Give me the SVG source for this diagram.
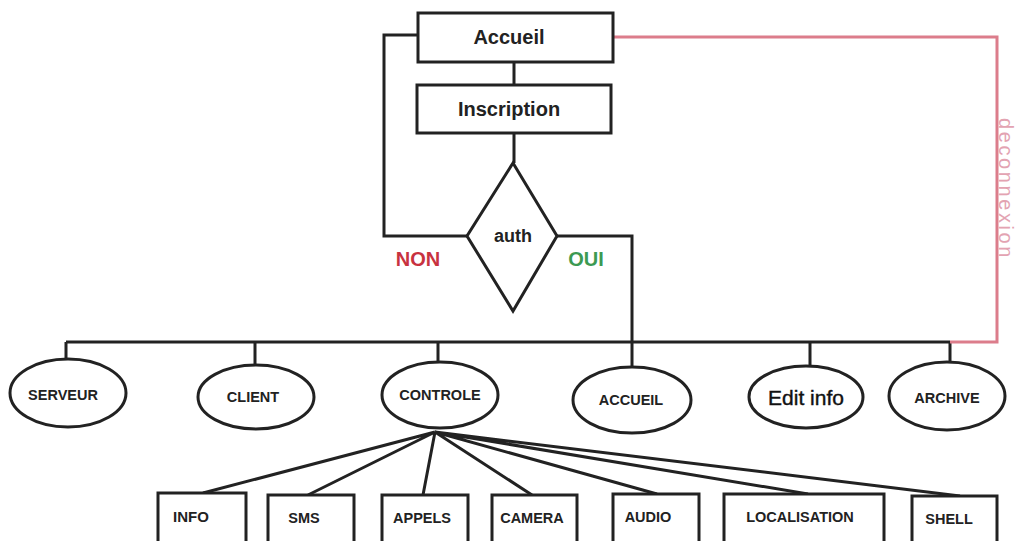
<svg xmlns="http://www.w3.org/2000/svg" width="1018" height="541" viewBox="0 0 1018 541">
<style>
.s{fill:#fff;stroke:#222;stroke-width:3}
.c{fill:none;stroke:#222;stroke-width:3}
.t{font-family:"Liberation Sans",Arial,sans-serif;font-weight:bold;fill:#222;text-anchor:middle}
.big{font-size:20px}
.e{font-size:14.5px}
.b{font-size:15px}
</style>
<rect width="1018" height="541" fill="#fff"/>
<g id="connectors">
<path class="c" d="M514 62V85M514 133V163M467 236H384V35H418M557 236H632V372"/>
<path class="c" d="M66 342H950M66 342V360M255 342V365M438 342V364M810 342V367M950 342V363"/>
<path fill="none" stroke="#dc7d8b" stroke-width="3" d="M613 37H997V342H950"/>
<path class="c" d="M435 432L203 493M435 432L308 495M435 432L423 495M435 432L532 495M435 432L657 494M435 432L808 494M435 432L960 496"/>
</g>
<g id="accueil"><rect class="s" x="418" y="13" width="195" height="49"/><text class="t big" x="509" y="44">Accueil</text></g>
<g id="inscription"><rect class="s" x="417" y="85" width="194" height="48"/><text class="t big" x="509" y="116">Inscription</text></g>
<g id="auth"><polygon class="s" points="513,163 557,236 513,311 467,236"/><text class="t" style="font-size:18px" x="513" y="242">auth</text></g>
<text class="t big" x="418" y="266" style="fill:#c8323f">NON</text>
<text class="t big" x="586" y="266" style="fill:#3c9a52">OUI</text>
<text x="999" y="118" transform="rotate(90 999 118)" style="font-family:'Liberation Sans',Arial,sans-serif;font-size:20px;letter-spacing:2.6px;fill:#e3a3b2">deconnexion</text>
<g id="serveur"><ellipse class="s" cx="68" cy="393" rx="58" ry="34"/><text class="t e" x="63" y="400">SERVEUR</text></g>
<g id="client"><ellipse class="s" cx="256" cy="397" rx="58" ry="32"/><text class="t e" x="253" y="402">CLIENT</text></g>
<g id="controle"><ellipse class="s" cx="440" cy="395" rx="58" ry="33"/><text class="t e" x="440" y="400">CONTROLE</text></g>
<g id="accueil2"><ellipse class="s" cx="632" cy="400" rx="59" ry="33"/><text class="t e" x="631" y="405">ACCUEIL</text></g>
<g id="editinfo"><ellipse class="s" cx="806" cy="397" rx="57" ry="31"/><text class="t" x="806" y="405" style="font-size:21px;font-weight:normal;fill:#111;stroke:#111;stroke-width:0.4">Edit info</text></g>
<g id="archive"><ellipse class="s" cx="947" cy="396" rx="58" ry="34"/><text class="t e" x="947" y="403">ARCHIVE</text></g>
<g id="info"><rect class="s" x="158" y="493" width="88" height="70"/><text class="t b" x="191" y="522">INFO</text></g>
<g id="sms"><rect class="s" x="268" y="495" width="86" height="70"/><text class="t e" x="304" y="523">SMS</text></g>
<g id="appels"><rect class="s" x="382" y="495" width="86" height="70"/><text class="t e" x="422" y="523">APPELS</text></g>
<g id="camera"><rect class="s" x="492" y="495" width="85" height="70"/><text class="t e" x="532" y="523">CAMERA</text></g>
<g id="audio"><rect class="s" x="613" y="494" width="86" height="70"/><text class="t e" x="648" y="522">AUDIO</text></g>
<g id="localisation"><rect class="s" x="724" y="494" width="160" height="70"/><text class="t e" x="800" y="522">LOCALISATION</text></g>
<g id="shell"><rect class="s" x="912" y="496" width="85" height="70"/><text class="t e" x="949" y="524">SHELL</text></g>
</svg>
